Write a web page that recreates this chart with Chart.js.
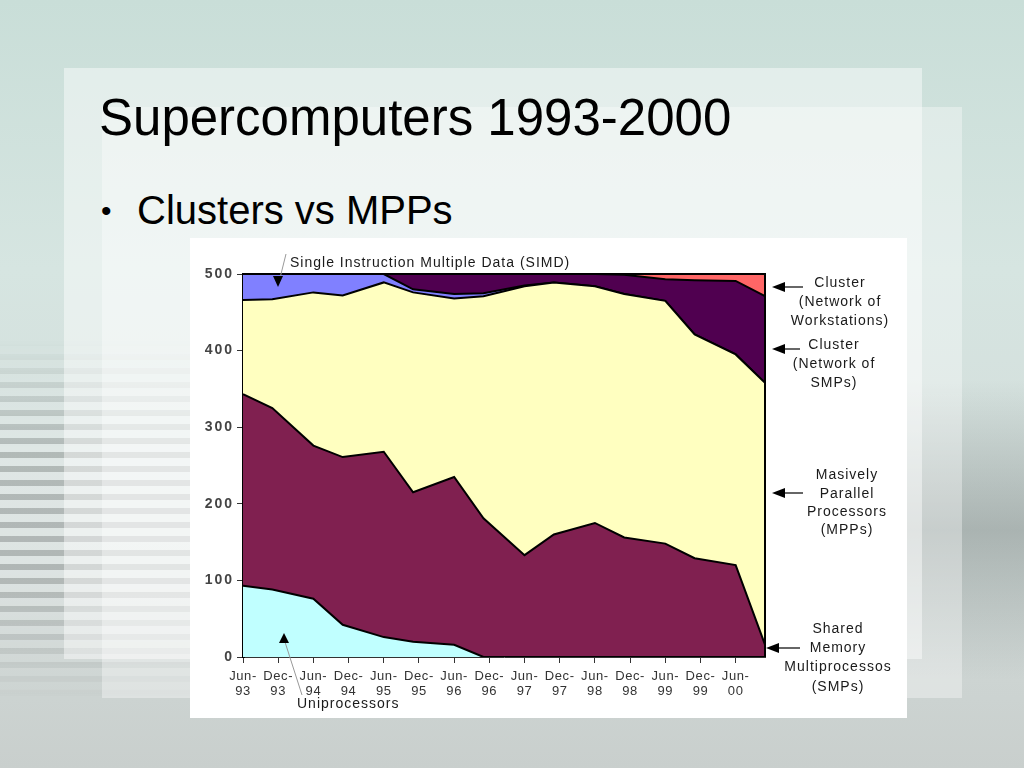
<!DOCTYPE html>
<html>
<head>
<meta charset="utf-8">
<script src="https://cdn.jsdelivr.net/npm/chart.js@4"></script>
<style>
  html, body { margin: 0; padding: 0; }
  body {
    width: 1024px; height: 768px; overflow: hidden; position: relative;
    background: linear-gradient(180deg, #c9ded8 0%, #d6e5e1 35%, #d3dcda 70%, #c9cfcd 100%);
    font-family: "Liberation Sans", Arial, sans-serif;
  }
  .stripes {
    position: absolute; left: 0; top: 340px; width: 200px; height: 360px;
    background: repeating-linear-gradient(180deg, rgba(90,90,90,0.28) 0 6px, rgba(255,255,255,0.25) 6px 14px);
    -webkit-mask-image: linear-gradient(180deg, transparent 0%, #000 30%, #000 65%, transparent 100%);
  }
  .rightshade {
    position: absolute; left: 900px; top: 380px; width: 124px; height: 300px;
    background: linear-gradient(180deg, rgba(150,160,158,0) 0%, rgba(120,130,128,0.45) 50%, rgba(150,160,158,0) 100%);
  }
  .panel1 {
    position: absolute; left: 64px; top: 68px; width: 858px; height: 591px;
    background: rgba(255,255,255,0.45);
  }
  .panel2 {
    position: absolute; left: 102px; top: 107px; width: 860px; height: 591px;
    background: rgba(255,255,255,0.35);
  }
  h1 {
    position: absolute; left: 99px; top: 88px; margin: 0;
    font-weight: normal; font-size: 51px; line-height: 60px; color: #000;
  }
  .bullet {
    position: absolute; left: 101px; top: 187px; margin: 0;
    font-size: 40px; line-height: 46px; color: #000;
  }
  .bullet span { display: inline-block; width: 36px; font-size: 30px; vertical-align: 3px; }
  .box {
    position: absolute; left: 190px; top: 238px; width: 717px; height: 480px;
    background: #fff;
  }
</style>
</head>
<body>
<div class="stripes"></div>
<div class="rightshade"></div>
<div class="panel1"></div>
<div class="panel2"></div>
<h1>Supercomputers 1993-2000</h1>
<div class="bullet"><span>•</span>Clusters vs MPPs</div>
<div class="box"><canvas id="area-chart" width="717" height="480"></canvas></div>
<script>
// TOP500 lists: June and November, months counted from Jun-93
const months = [0, 5, 12, 17, 24, 29, 36, 41, 48, 53, 60, 65, 72, 77, 84, 89];
const tickLabels = [["Jun-", "93"], ["Dec-", "93"], ["Jun-", "94"], ["Dec-", "94"], ["Jun-", "95"],
  ["Dec-", "95"], ["Jun-", "96"], ["Dec-", "96"], ["Jun-", "97"], ["Dec-", "97"], ["Jun-", "98"],
  ["Dec-", "98"], ["Jun-", "99"], ["Dec-", "99"], ["Jun-", "00"]];

const uniprocessors = [93, 88, 76, 42, 26, 20, 16, 0, 0, 0, 0, 0, 0, 0, 0, 0];
const smps = [250, 237, 200, 219, 242, 195, 219, 181, 133, 160, 175, 156, 148, 129, 120, 16];
const mpps = [123, 142, 200, 211, 221, 261, 233, 290, 351, 329, 309, 318, 317, 292, 275, 342];
const simd = [34, 33, 24, 28, 11, 4, 6, 4, 1, 0, 0, 0, 0, 0, 0, 0];
const clusterSmps = [0, 0, 0, 0, 0, 20, 26, 25, 15, 11, 16, 25, 28, 71, 96, 113];
const clusterNow = [0, 0, 0, 0, 0, 0, 0, 0, 0, 0, 0, 1, 7, 8, 9, 29];

function pts(vals) {
  return months.map((m, i) => ({ x: m, y: vals[i] }));
}

function series(label, vals, color, fill) {
  return {
    label: label,
    data: pts(vals),
    backgroundColor: color,
    borderColor: "#000",
    borderWidth: 2,
    pointRadius: 0,
    tension: 0,
    fill: fill
  };
}

const font = "Liberation Sans, Arial, sans-serif";

// slight letter spacing like the original graphic
const spacing = {
  id: "spacing",
  beforeDraw(chart) { chart.ctx.letterSpacing = "0.6px"; }
};

// y labels (wide spaced), arrows + labels around the plot (canvas coordinates)
const notes = {
  id: "notes",
  afterDraw(chart) {
    const ctx = chart.ctx;
    const a = chart.chartArea;
    const ys = chart.scales.y;
    ctx.save();
    // frame
    ctx.strokeStyle = "#000";
    ctx.lineWidth = 2;
    ctx.beginPath();
    ctx.moveTo(a.left, a.top);
    ctx.lineTo(a.right, a.top);
    ctx.lineTo(a.right, a.bottom);
    ctx.stroke();

    ctx.fillStyle = "#444";
    ctx.font = "bold 14px " + font;
    ctx.letterSpacing = "2px";
    ctx.textBaseline = "middle";
    ctx.textAlign = "right";
    ys.ticks.forEach(t => ctx.fillText(String(t.value), a.left - 9, ys.getPixelForValue(t.value)));

    ctx.fillStyle = "#1a1a1a";
    ctx.font = "14px " + font;
    ctx.letterSpacing = "1px";
    ctx.textAlign = "left";
    ctx.fillText("Single Instruction Multiple Data (SIMD)", 100, 25);
    ctx.fillText("Uniprocessors", 107, 466);

    // pointer lines
    ctx.strokeStyle = "#999";
    ctx.lineWidth = 1;
    ctx.beginPath();
    ctx.moveTo(96, 16); ctx.lineTo(89, 44);
    ctx.moveTo(112, 457); ctx.lineTo(95, 404);
    ctx.stroke();
    ctx.fillStyle = "#000";
    ctx.beginPath();
    ctx.moveTo(83, 38); ctx.lineTo(93, 38); ctx.lineTo(88, 49); ctx.closePath();
    ctx.fill();
    ctx.beginPath();
    ctx.moveTo(89, 405); ctx.lineTo(99, 405); ctx.lineTo(94, 395); ctx.closePath();
    ctx.fill();

    // right side labels
    ctx.fillStyle = "#1a1a1a";
    ctx.textAlign = "center";
    const groups = [
      [650, [45, 64, 83], ["Cluster", "(Network of", "Workstations)"]],
      [644, [107, 126, 145], ["Cluster", "(Network of", "SMPs)"]],
      [657, [237, 256, 274, 292], ["Masively", "Parallel", "Processors", "(MPPs)"]],
      [648, [391, 410, 429, 449], ["Shared", "Memory", "Multiprocessos", "(SMPs)"]]
    ];
    groups.forEach(g => g[2].forEach((t, i) => ctx.fillText(t, g[0], g[1][i])));

    const arrows = [[582, 613, 49], [582, 610, 111], [582, 613, 255], [576, 610, 410]];
    ctx.strokeStyle = "#000";
    ctx.fillStyle = "#000";
    ctx.lineWidth = 1.2;
    arrows.forEach(r => {
      ctx.beginPath();
      ctx.moveTo(r[0] + 10, r[2]); ctx.lineTo(r[1], r[2]);
      ctx.stroke();
      ctx.beginPath();
      ctx.moveTo(r[0], r[2]); ctx.lineTo(r[0] + 13, r[2] - 5); ctx.lineTo(r[0] + 13, r[2] + 5);
      ctx.closePath();
      ctx.fill();
    });
    ctx.restore();
  }
};

new Chart(document.getElementById("area-chart"), {
  type: "line",
  data: {
    datasets: [
      series("Uniprocessors", uniprocessors, "#c0ffff", "origin"),
      series("Shared Memory Multiprocessors (SMPs)", smps, "#802050", "-1"),
      series("Massively Parallel Processors (MPPs)", mpps, "#ffffc0", "-1"),
      series("Single Instruction Multiple Data (SIMD)", simd, "#8080ff", "-1"),
      series("Cluster (Network of SMPs)", clusterSmps, "#500050", "-1"),
      series("Cluster (Network of Workstations)", clusterNow, "#ff6666", "-1")
    ]
  },
  options: {
    responsive: false,
    animation: false,
    layout: { padding: { left: 0, top: 36, right: 142, bottom: 0 } },
    plugins: {
      legend: { display: false },
      tooltip: { enabled: false }
    },
    scales: {
      x: {
        type: "linear",
        min: 0,
        max: 89,
        afterFit: s => { s.height = 61; },
        border: { display: true, color: "#333", width: 1 },
        grid: { drawOnChartArea: false, drawTicks: true, tickLength: 6, color: "#333" },
        ticks: {
          stepSize: 6,
          includeBounds: false,
          autoSkip: false,
          maxRotation: 0,
          padding: 6,
          color: "#333",
          font: { family: font, size: 13, lineHeight: 1.15 },
          callback: v => tickLabels[v / 6]
        }
      },
      y: {
        stacked: true,
        min: 0,
        max: 500,
        afterFit: s => { s.width = 53; },
        border: { display: true, color: "#000", width: 3 },
        grid: { drawOnChartArea: false, drawTicks: true, tickLength: 6, color: "#333" },
        ticks: { stepSize: 100, display: false }
      }
    }
  },
  plugins: [spacing, notes]
});
</script>
</body>
</html>
